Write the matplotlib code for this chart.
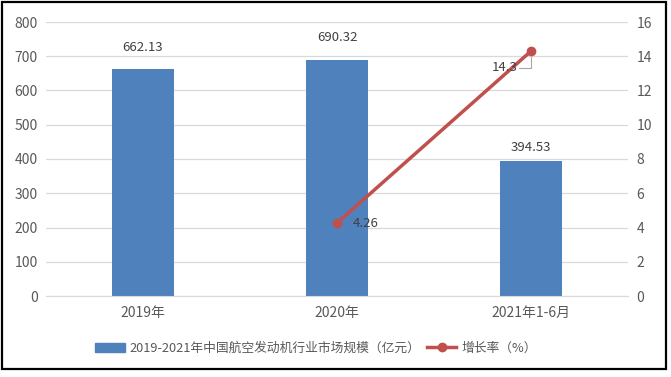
import numpy as np
import matplotlib.pyplot as plt
from matplotlib.patches import Rectangle
from matplotlib.lines import Line2D

plt.rcParams['font.family'] = ['Noto Sans CJK SC', 'DejaVu Sans']

# data
categories = ['2019年', '2020年', '2021年1-6月']
market_size = [662.13, 690.32, 394.53]
growth_cats = [1, 2]
growth_rate = [4.26, 14.3]
bar_label = '2019-2021年中国航空发动机行业市场规模（亿元）'
line_label = '增长率（%）'

bar_color = '#4F81BD'
line_color = '#C0504D'
text_color = '#595959'
grid_color = '#D9D9D9'

W, H = 671, 377
fig = plt.figure(figsize=(W / 100, H / 100), dpi=100)
ax = fig.add_axes([46 / W, 1 - 296 / H, (628 - 46) / W, (296 - 22) / H])
ax2 = ax.twinx()

x = np.arange(len(categories))
ax.bar(x, market_size, width=0.315, color=bar_color, zorder=2)
label_gap = [11, 11, 5]  # points above bar top, as in the original
for xi, v, g in zip(x, market_size, label_gap):
    ax.annotate('%.2f' % v, (xi, v), xytext=(0, g), textcoords='offset points',
                ha='center', va='bottom', fontsize=9.5, color='#404040')

ax.set_xlim(-0.5, 2.5)
ax.set_ylim(0, 800)
ax.set_yticks(np.arange(0, 801, 100))
ax.grid(axis='y', color=grid_color, lw=0.9, zorder=0)
ax.set_axisbelow(True)
ax.set_xticks(x)
ax.set_xticklabels(categories)

ax2.plot(growth_cats, growth_rate, color=line_color, lw=2.5, marker='o', ms=6, zorder=3)
ax2.set_ylim(0, 16)
ax2.set_yticks(np.arange(0, 17, 2))

# data labels for the line
ax2.annotate('%.2f' % growth_rate[0], (growth_cats[0], growth_rate[0]), xytext=(11, 0),
             textcoords='offset points', ha='left', va='center', fontsize=9.5, color='#404040')
ax2.annotate('%.1f' % growth_rate[1], (growth_cats[1], growth_rate[1]), xytext=(-28, -12),
             textcoords='offset points', ha='left', va='center', fontsize=9.5, color='#404040')
# leader line
ax2.annotate('', (growth_cats[1], growth_rate[1]), xytext=(-9, -12), textcoords='offset points',
             arrowprops=dict(arrowstyle='-', color='#A6A6A6', lw=0.8,
                             connectionstyle='angle,angleA=0,angleB=90,rad=0',
                             shrinkA=0, shrinkB=4))

for a in (ax, ax2):
    for s in a.spines.values():
        s.set_visible(False)
    a.tick_params(length=0, labelsize=10, colors=text_color)
ax.spines['bottom'].set_visible(True)
ax.spines['bottom'].set_color(grid_color)
ax.tick_params(axis='y', pad=6)
ax2.tick_params(axis='y', pad=6)
ax.tick_params(axis='x', pad=7)

handles = [Rectangle((0, 0), 1, 1, color=bar_color),
           Line2D([], [], color=line_color, lw=2.5, marker='o', ms=6)]
fig.legend(handles, [bar_label, line_label], loc='center', bbox_to_anchor=(316 / W, 1 - 348 / H),
           ncol=2, frameon=False, fontsize=9.2, labelcolor=text_color, handlelength=2.3,
           columnspacing=0.5, handletextpad=0.4)

# outer frame
fig.patches.append(Rectangle((2 / W, 1 - 369 / H), 664 / W, 367 / H, transform=fig.transFigure,
                             fill=False, edgecolor='black', lw=1.6))

fig.savefig('out.png', dpi=100)
